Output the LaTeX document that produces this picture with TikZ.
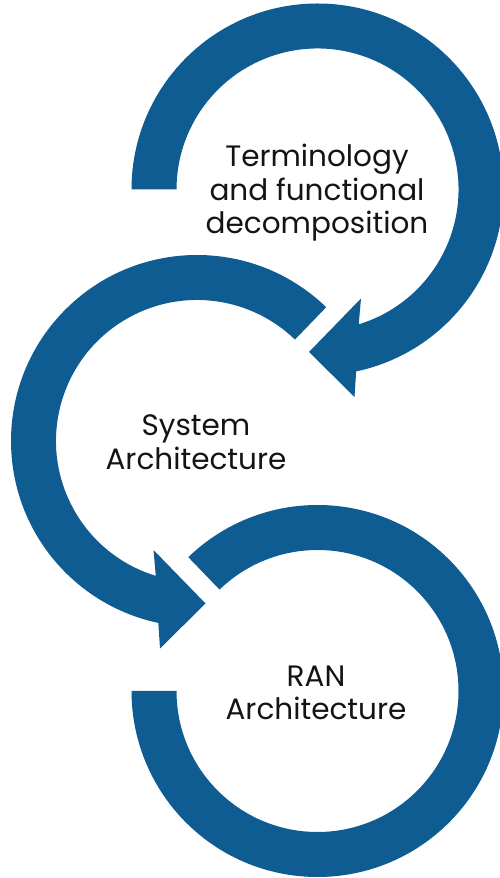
\documentclass[tikz,border=0pt]{standalone}
\usepackage{fontspec}
\setmainfont{Poppins}
\usetikzlibrary{calc}
\definecolor{ringblue}{RGB}{14,92,145}
\definecolor{txt}{RGB}{20,20,20}
\begin{document}
\begin{tikzpicture}[x=1pt,y=1pt,
  ring/.style={fill=ringblue,draw=none},
  lbl/.style={align=center,font=\fontsize{29.5}{33.5}\selectfont,text=txt,inner sep=0pt}]
\useasboundingbox (0,0) rectangle (500,878);
\clip (0,0) rectangle (500,878);
\coordinate (T) at (317.5,688.5);
\coordinate (M) at (197,437);
\coordinate (B) at (317.5,187);
% top arc with arrowhead
\fill[ring] ($(T)+(180:186)$) arc[start angle=180,end angle=-78,radius=186]
  -- ($(T)+(37,-207.5)$) -- ($(T)+(-8.5,-162.5)$) -- ($(T)+(43.5,-109)$)
  -- ($(T)+(-73:141)$) arc[start angle=-73,end angle=180,radius=141] -- cycle;
% middle arc with arrowhead
\fill[ring] ($(M)+(46:186)$) arc[start angle=46,end angle=258,radius=186]
  -- ($(M)+(-37,-207.5)$) -- ($(M)+(8.5,-162.5)$) -- ($(M)+(-43.5,-109)$)
  -- ($(M)+(253:141)$) arc[start angle=253,end angle=46,radius=141] -- cycle;
% bottom arc
\fill[ring] ($(B)+(134:186)$) arc[start angle=134,end angle=-180,radius=186]
  -- ($(B)+(180:141)$) arc[start angle=180,end angle=494,radius=141] -- cycle;
\node[lbl] (t1) at (317,685) {Terminology\\and functional\\decomposition};
\node[lbl] (t2) at (196,436) {System\\Architecture};
\node[lbl] (t3) at (316,185) {RAN\\Architecture};
\end{tikzpicture}
\end{document}
